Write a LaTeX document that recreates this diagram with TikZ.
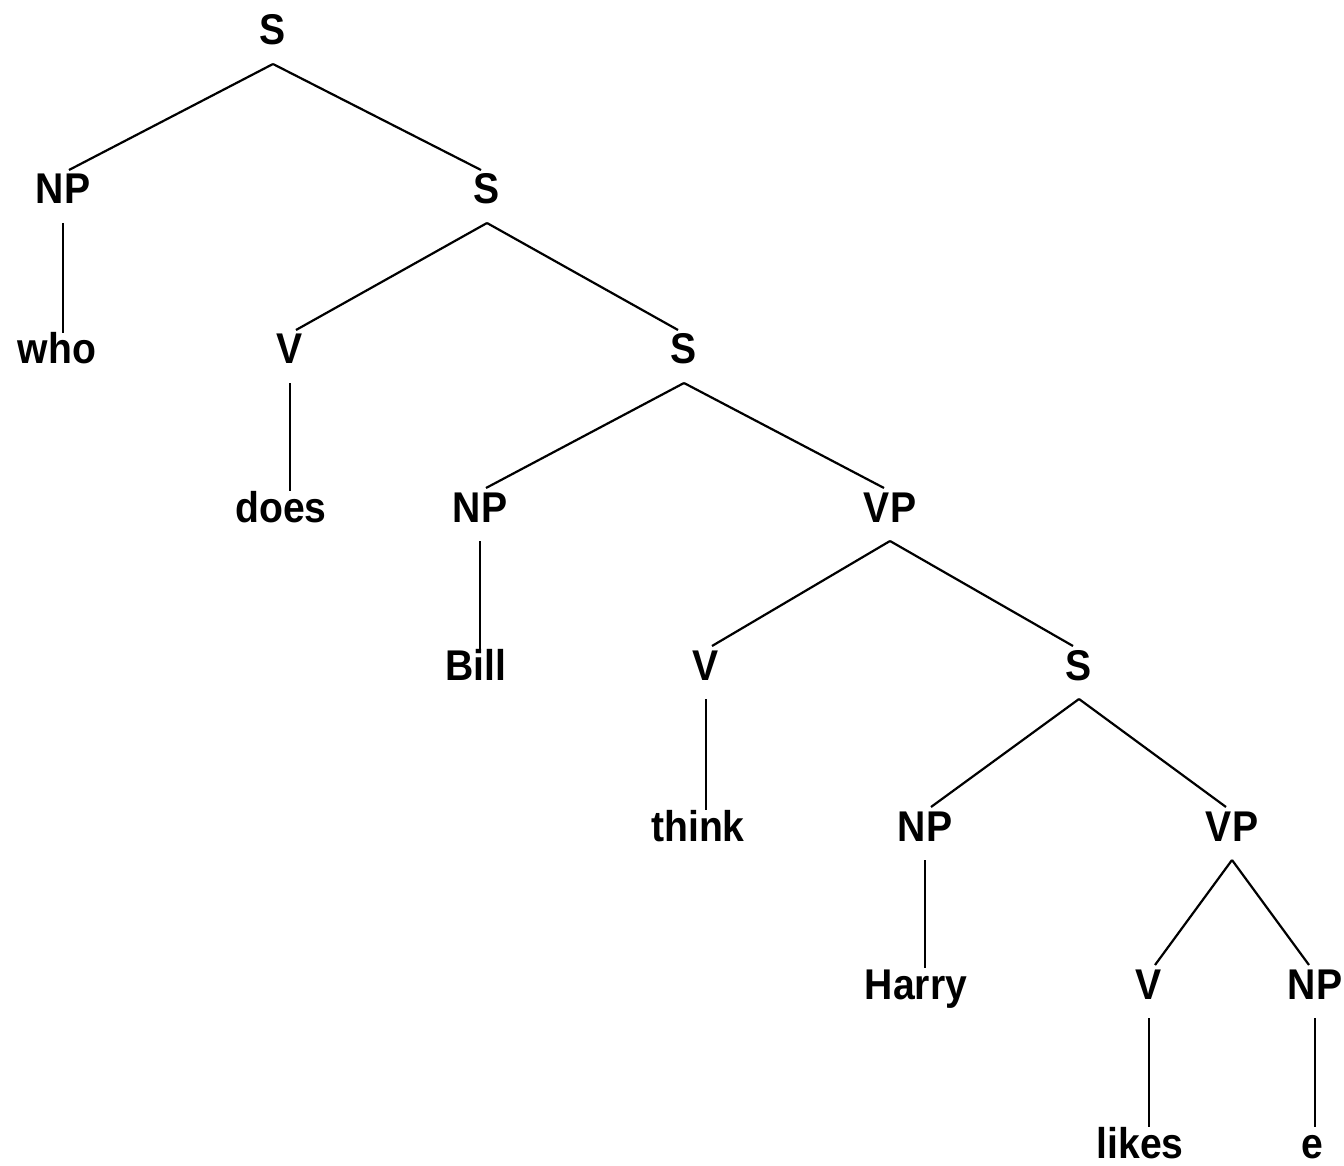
\documentclass[tikz,border=0pt]{standalone}
\usepackage{fontspec}
\setmainfont{Liberation Sans}
\usepackage{graphicx}
\newcommand\tlbl[1]{\scalebox{0.91}[1]{\bfseries #1}}
\tikzset{
  lbl/.style={inner sep=0pt, anchor=base, font=\fontsize{21.5}{21.5}\selectfont},
  edge/.style={draw=black, line width=1.1pt},
}
\newcommand\brL[2]{\draw[edge] ([yshift=-9.5pt]#1.base) -- ([xshift=3pt,yshift=17pt]#2.base);}
\newcommand\brR[2]{\draw[edge] ([yshift=-9.5pt]#1.base) -- ([xshift=-3pt,yshift=17pt]#2.base);}
\newcommand\brV[2]{\draw[edge] ([yshift=-9.5pt]#1.base) -- ([yshift=15.5pt]#2.base -| #1.base);}
\begin{document}
\begin{tikzpicture}[x=0.5pt,y=-0.5pt]
\useasboundingbox (0,0) rectangle (1344,1166);
% row 0
\node[lbl] (s0) at (273,45) {\tlbl{S}};
% row 1
\node[lbl] (np1) at (63,204) {\tlbl{NP}};
\node[lbl] (s1) at (487,204) {\tlbl{S}};
% row 2
\node[lbl] (who) at (57,364) {\tlbl{who}};
\node[lbl] (v2) at (290,364) {\tlbl{V}};
\node[lbl] (s2) at (684,364) {\tlbl{S}};
% row 3
\node[lbl] (does) at (281,522) {\tlbl{does}};
\node[lbl] (np3) at (480,522) {\tlbl{NP}};
\node[lbl] (vp3) at (890,522) {\tlbl{VP}};
% row 4
\node[lbl] (bill) at (476,680) {\tlbl{Bill}};
\node[lbl] (v4) at (706,680) {\tlbl{V}};
\node[lbl] (s4) at (1079,680) {\tlbl{S}};
% row 5
\node[lbl] (think) at (698,841) {\tlbl{think}};
\node[lbl] (np5) at (925,841) {\tlbl{NP}};
\node[lbl] (vp5) at (1232,841) {\tlbl{VP}};
% row 6
\node[lbl] (harry) at (916,999) {\tlbl{Harry}};
\node[lbl] (v6) at (1149,999) {\tlbl{V}};
\node[lbl] (np6) at (1315,999) {\tlbl{NP}};
% row 7
\node[lbl] (likes) at (1140,1158) {\tlbl{likes}};
\node[lbl] (e) at (1312,1158) {\tlbl{e}};
% edges
\brL{s0}{np1} \brR{s0}{s1}
\brV{np1}{who}
\brL{s1}{v2} \brR{s1}{s2}
\brV{v2}{does}
\brL{s2}{np3} \brR{s2}{vp3}
\brV{np3}{bill}
\brL{vp3}{v4} \brR{vp3}{s4}
\brV{v4}{think}
\brL{s4}{np5} \brR{s4}{vp5}
\brV{np5}{harry}
\brL{vp5}{v6} \brR{vp5}{np6}
\brV{v6}{likes}
\brV{np6}{e}
\end{tikzpicture}
\end{document}
